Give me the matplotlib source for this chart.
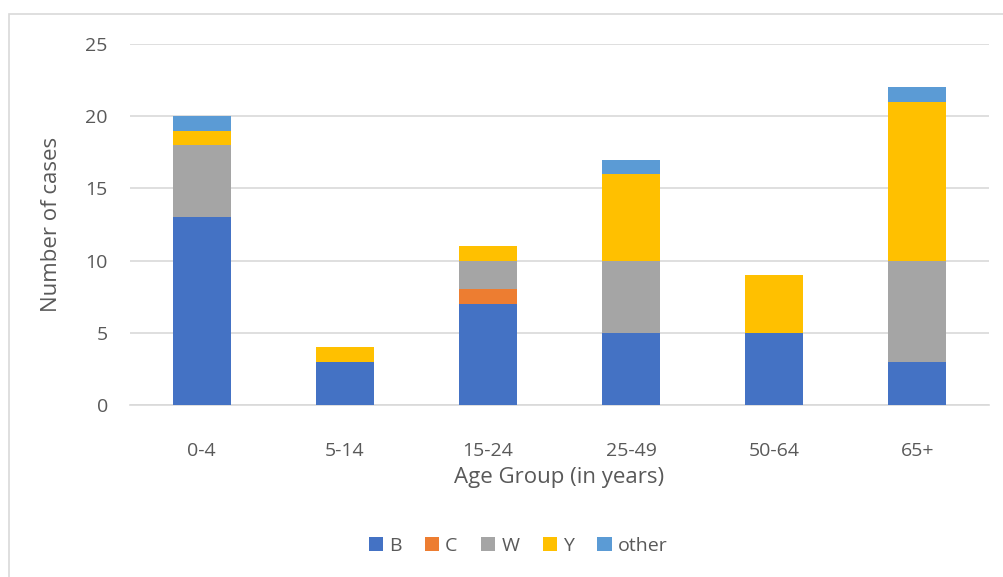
import numpy as np
import matplotlib.pyplot as plt
from matplotlib.patches import Rectangle

# case counts by age group, one list per series
age_groups = ["0-4", "5-14", "15-24", "25-49", "50-64", "65+"]
series_names = ["B", "C", "W", "Y", "other"]
cases_B = [13, 3, 7, 5, 5, 3]
cases_C = [0, 0, 1, 0, 0, 0]
cases_W = [5, 0, 2, 5, 0, 7]
cases_Y = [1, 1, 1, 6, 4, 11]
cases_other = [1, 0, 0, 1, 0, 1]

colors = ["#4472C4", "#ED7D31", "#A5A5A5", "#FFC000", "#5B9BD5"]
text_col = "#595959"

plt.rcParams["font.family"] = ["Open Sans", "DejaVu Sans"]

fig = plt.figure(figsize=(10.04, 5.77), dpi=100)
W, H = 1004, 577
ax = fig.add_axes([130 / W, 1 - 405 / H, 859 / W, (405 - 44) / H])

# light frame round the whole chart
fig.patches.append(Rectangle((9 / W, -0.2), 1.2, 1.2 - 14 / H, transform=fig.transFigure,
                             fill=False, edgecolor="#D9D9D9", linewidth=1.2))

x = np.arange(len(age_groups))
bottom = np.zeros(len(age_groups))
for name, vals, col in zip(series_names,
                           [cases_B, cases_C, cases_W, cases_Y, cases_other], colors):
    ax.bar(x, vals, width=0.405, bottom=bottom, color=col, label=name, zorder=3)
    bottom += np.array(vals)

ax.set_xlim(-0.5, len(age_groups) - 0.5)
ax.set_ylim(0, 25)
ax.set_yticks(range(0, 26, 5))
ax.set_xticks(x)
ax.set_xticklabels(age_groups)
ax.grid(axis="y", color="#D9D9D9", linewidth=1.2, zorder=0)
for s in ["top", "right", "left"]:
    ax.spines[s].set_visible(False)
ax.spines["bottom"].set_color("#D9D9D9")
ax.spines["bottom"].set_linewidth(1.2)
ax.tick_params(length=0, labelsize=14, colors=text_col)
ax.tick_params(axis="x", pad=27)
ax.tick_params(axis="y", pad=16)

ax.set_xlabel("Age Group (in years)", fontsize=16, color=text_col, labelpad=5)
ax.set_ylabel("Number of cases", fontsize=16, color=text_col, labelpad=17)

ax.legend(loc="center", bbox_to_anchor=(518 / W, 1 - 546 / H),
          bbox_transform=fig.transFigure, ncol=5, frameon=False,
          fontsize=14, labelcolor=text_col, handlelength=0.75, handleheight=0.75,
          handletextpad=0.3, columnspacing=1.2)

fig.savefig("out.png", dpi=100)
